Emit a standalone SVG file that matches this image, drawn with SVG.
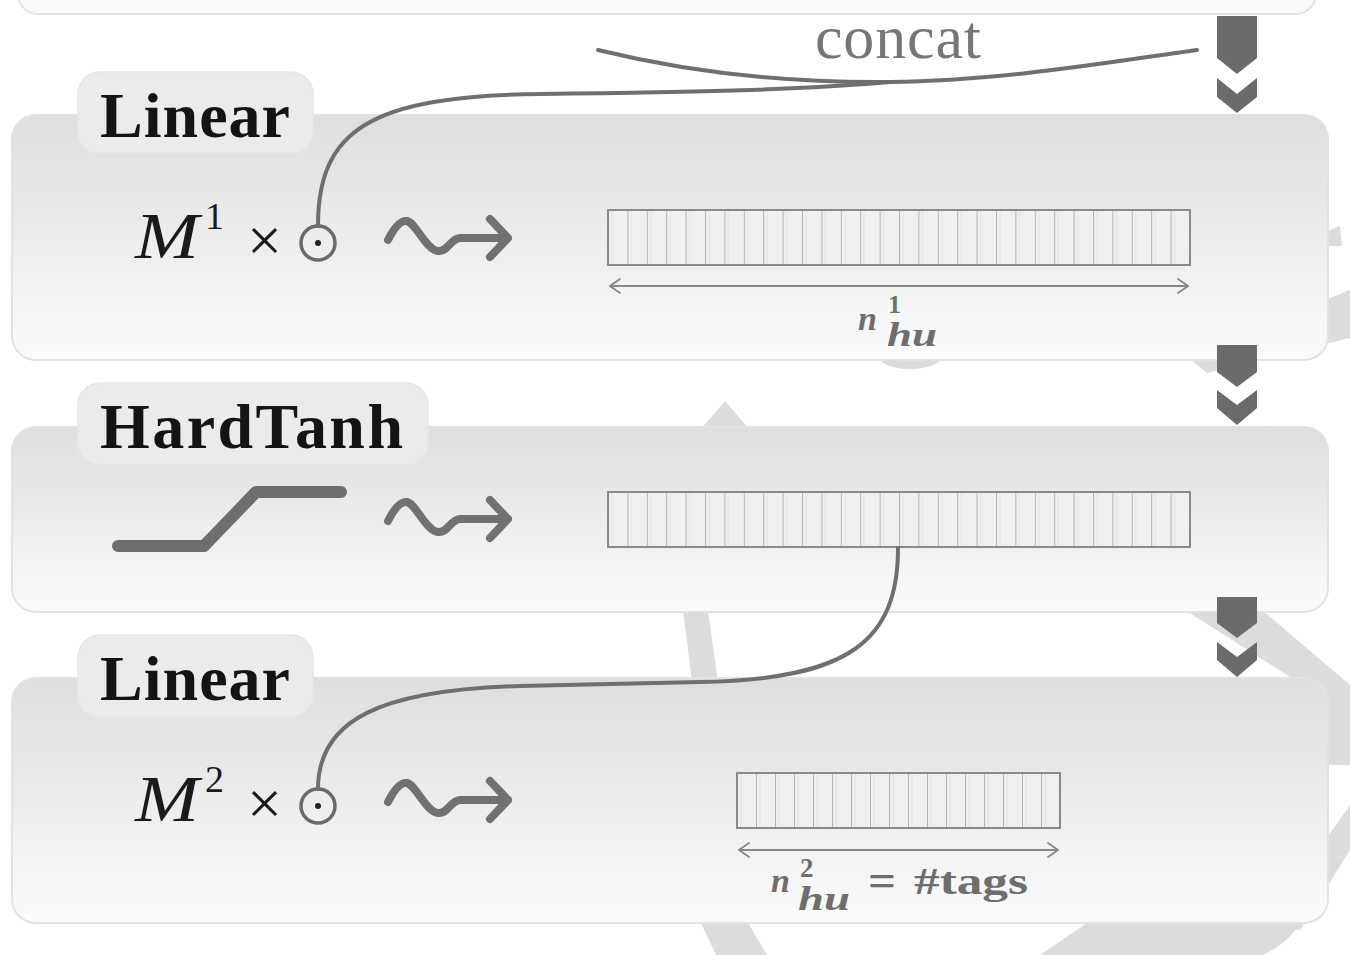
<svg xmlns="http://www.w3.org/2000/svg" width="1350" height="955" viewBox="0 0 1350 955">
  <defs>
    <linearGradient id="boxFill" x1="0" y1="0" x2="0" y2="1">
      <stop offset="0" stop-color="#dedede"/>
      <stop offset="1" stop-color="#fbfbfb"/>
    </linearGradient>
    <symbol id="squiggle" overflow="visible">
      <path d="M0,2 C6,-10 12,-18 19,-17 C28,-15 38,12 50,13 C60,14 62,1 72,0 L120,0 M102,-19 L120,0 L102,19" fill="none" stroke="#717171" stroke-width="8" stroke-linecap="round" stroke-linejoin="round"/>
    </symbol>
    <marker id="openHead" viewBox="0 0 12 16" refX="11" refY="8" markerWidth="12" markerHeight="16" markerUnits="userSpaceOnUse" orient="auto-start-reverse">
      <path d="M1,1 L11,8 L1,15" fill="none" stroke="#888" stroke-width="1.8" stroke-linecap="round"/>
    </marker>
    <pattern id="cells1" x="608" y="0" width="19.4" height="10" patternUnits="userSpaceOnUse">
      <line x1="0.5" y1="0" x2="0.5" y2="10" stroke="#b4b4b4" stroke-width="1"/>
      <line x1="4" y1="0" x2="4" y2="10" stroke="#e2e2e2" stroke-width="1"/>
    </pattern>
    <pattern id="cells3" x="737" y="0" width="19" height="10" patternUnits="userSpaceOnUse">
      <line x1="0.5" y1="0" x2="0.5" y2="10" stroke="#b4b4b4" stroke-width="1"/>
      <line x1="4" y1="0" x2="4" y2="10" stroke="#e2e2e2" stroke-width="1"/>
    </pattern>
  </defs>
  <style>
    .box { fill: url(#boxFill); stroke: #e2e2e2; stroke-width: 2; }
    .tab { fill: #ebebeb; stroke: #e6e6e6; stroke-width: 1.5; }
    .title { font-family: "Liberation Serif", "DejaVu Serif", serif; font-weight: bold; font-size: 64px; fill: #141414; }
    .math { font-family: "Liberation Serif", "DejaVu Serif", serif; fill: #1a1a1a; }
    .dim { font-family: "Liberation Serif", "DejaVu Serif", serif; fill: #6e6e6e; font-weight: bold; }
    .bar { stroke: #8a8a8a; stroke-width: 2; }
    .barBase { fill: #f0f0f0; }
    .dimLine { stroke: #888; stroke-width: 2; fill: none; }
    .wire { fill: none; stroke: #6f6f6f; stroke-width: 4; stroke-linecap: round; }
    .chev { fill: #6b6b6b; }
    .ghost { fill: #dcdcdc; }
    .icon { fill: none; stroke: #6e6e6e; stroke-linecap: round; stroke-linejoin: round; }
  </style>

  <rect width="1350" height="955" fill="#ffffff"/>

  <!-- faint decorative band shapes behind the layers -->
  <g id="backdrop">
    <polygon class="ghost" points="1350,290 1350,338 1207,373 1186,356"/>
    <polygon class="ghost" points="1326,232 1340,226 1342,246 1328,246"/>
    <ellipse class="ghost" cx="910" cy="358" rx="30" ry="11"/>
    <polygon class="ghost" points="725,401 750,430 700,430"/>
    <polygon class="ghost" points="683,610 708,610 718,682 692,682"/>
    <polygon class="ghost" points="1185,610 1262,610 1350,685 1350,765 1326,765 1326,700"/>
    <polygon class="ghost" points="1350,805 1350,850 1300,930 1262,930"/>
    <path class="ghost" d="M1040,955 L1090,921 L1302,921 C1290,940 1275,950 1262,955 Z"/>
    <polygon class="ghost" points="700,921 747,921 767,955 716,955"/>
  </g>

  <!-- layer above, cut off at the top -->
  <g id="layer-top">
    <rect x="18" y="-46" width="1298" height="60" rx="20" fill="#fafafa" stroke="#e3e3e3" stroke-width="2"/>
  </g>

  <!-- first linear layer -->
  <g id="linear-1">
    <rect class="box" x="12" y="115" width="1316" height="245" rx="24"/>
    <rect class="tab" x="78" y="72" width="235" height="82" rx="22"/>
    <text class="title" x="100" y="137" textLength="190">Linear</text>
    <text class="math" x="135" y="258" font-size="66" font-style="italic" textLength="64" lengthAdjust="spacingAndGlyphs">M</text>
    <text class="math" x="205" y="229" font-size="38">1</text>
    <text class="math" x="247" y="261" font-size="62">×</text>
    <circle cx="318" cy="243" r="17" fill="none" stroke="#6a6a6a" stroke-width="3.5"/>
    <circle cx="318" cy="243" r="3" fill="#222"/>
    <use href="#squiggle" x="388" y="238"/>
    <rect class="barBase" x="608" y="210" width="582" height="55"/>
    <rect x="608" y="210" width="582" height="55" fill="url(#cells1)"/>
    <rect class="bar" x="608" y="210" width="582" height="55" fill="none"/>
    <line class="dimLine" x1="610" y1="286" x2="1188" y2="286" marker-start="url(#openHead)" marker-end="url(#openHead)"/>
    <text class="dim" x="858" y="330" font-size="34" font-style="italic">n</text>
    <text class="dim" x="888" y="313" font-size="26">1</text>
    <text class="dim" x="887" y="346" font-size="33" font-style="italic" textLength="50" lengthAdjust="spacingAndGlyphs">hu</text>
  </g>

  <!-- hard tanh layer -->
  <g id="hardtanh">
    <rect class="box" x="12" y="427" width="1316" height="185" rx="24"/>
    <rect class="tab" x="78" y="383" width="350" height="82" rx="22"/>
    <text class="title" x="100" y="448" textLength="303">HardTanh</text>
    <polyline class="icon" stroke-width="12" points="118,546 204,546 256,492 341,492"/>
    <use href="#squiggle" x="388" y="519"/>
    <rect class="barBase" x="608" y="492" width="582" height="55"/>
    <rect x="608" y="492" width="582" height="55" fill="url(#cells1)"/>
    <rect class="bar" x="608" y="492" width="582" height="55" fill="none"/>
  </g>

  <!-- second linear layer -->
  <g id="linear-2">
    <rect class="box" x="12" y="678" width="1316" height="245" rx="24"/>
    <rect class="tab" x="78" y="635" width="235" height="82" rx="22"/>
    <text class="title" x="100" y="700" textLength="190">Linear</text>
    <text class="math" x="135" y="821" font-size="66" font-style="italic" textLength="64" lengthAdjust="spacingAndGlyphs">M</text>
    <text class="math" x="205" y="792" font-size="38">2</text>
    <text class="math" x="247" y="824" font-size="62">×</text>
    <circle cx="318" cy="806" r="17" fill="none" stroke="#6a6a6a" stroke-width="3.5"/>
    <circle cx="318" cy="806" r="3" fill="#222"/>
    <use href="#squiggle" x="388" y="800"/>
    <rect class="barBase" x="737" y="773" width="323" height="55"/>
    <rect x="737" y="773" width="323" height="55" fill="url(#cells3)"/>
    <rect class="bar" x="737" y="773" width="323" height="55" fill="none"/>
    <line class="dimLine" x1="739" y1="850" x2="1058" y2="850" marker-start="url(#openHead)" marker-end="url(#openHead)"/>
    <text class="dim" x="771" y="892" font-size="34" font-style="italic">n</text>
    <text class="dim" x="800" y="877" font-size="27">2</text>
    <text class="dim" x="798" y="910" font-size="33" font-style="italic" textLength="52" lengthAdjust="spacingAndGlyphs">hu</text>
    <text class="dim" x="868" y="896" font-size="46" font-weight="normal" textLength="28" lengthAdjust="spacingAndGlyphs">=</text>
    <text class="dim" x="914" y="894" font-size="37" font-weight="normal" textLength="114" lengthAdjust="spacingAndGlyphs">#tags</text>
  </g>

  <!-- flow chevrons between layers -->
  <g id="flow-chevrons">
    <path class="chev" d="M1217,16 H1257 V58 L1237,74 L1217,58 Z"/>
    <path class="chev" d="M1217,78 L1237,94 L1257,78 V97 L1237,113 L1217,97 Z"/>
    <path class="chev" d="M1217,345 H1257 V372 L1237,387 L1217,372 Z"/>
    <path class="chev" d="M1217,390 L1237,405 L1257,390 V408 L1237,425 L1217,408 Z"/>
    <path class="chev" d="M1217,597 H1257 V623 L1237,638 L1217,623 Z"/>
    <path class="chev" d="M1217,642 L1237,657 L1257,642 V660 L1237,677 L1217,660 Z"/>
  </g>

  <!-- connectors -->
  <g id="connectors">
    <path class="wire" d="M598,50 C700,75 800,83 890,82 C1000,81 1110,62 1197,50"/>
    <path class="wire" d="M318,226 C318,130 370,96 540,94 C700,92 800,90 890,82"/>
    <path class="wire" d="M898,548 C898,640 850,680 700,682 L520,686 C380,690 318,720 318,789"/>
    <text x="898" y="58" text-anchor="middle" font-family="Liberation Serif, DejaVu Serif, serif" font-size="62" fill="#767676" textLength="166">concat</text>
  </g>
</svg>
